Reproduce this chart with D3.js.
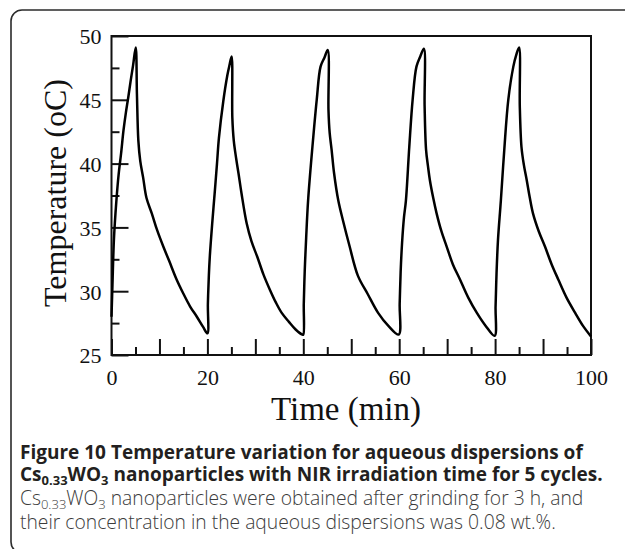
<!DOCTYPE html>
<html>
<head>
<meta charset="utf-8">
<script src="https://cdn.jsdelivr.net/npm/d3@7"></script>
<style>
    body { margin: 0; background: #fff; }
    #chart { width: 625px; height: 549px; }
    .tick text { font-family: "Liberation Serif", "Times New Roman", serif; font-size: 22px; fill: #111; }
    .axisTitle { font-family: "Liberation Serif", "Times New Roman", serif; fill: #111; }
    .captionBold { font-family: "Open Sans", sans-serif; font-weight: 700; font-size: 19px; fill: #231f20; }
    .captionText { font-family: "Open Sans", sans-serif; font-weight: 300; font-size: 19.3px; fill: #3c3c3c; }
</style>
</head>
<body>
<div id="chart"></div>
<script>
// Temperature readings (min, oC) per irradiation cycle
const cycle1Time = [0, 0.2, 0.5, 1.0, 1.5, 2.0, 2.5, 3.0, 3.5, 4.0, 4.5, 5.05, 5.3, 5.6, 6.0, 6.6, 7.3, 8.4, 9.5, 10.8, 12.0, 13.6, 15.0, 16.4, 17.8, 19.1, 20.0];
const cycle1Temp = [28.0, 30.5, 34.0, 37.0, 39.2, 40.8, 42.6, 44.0, 45.2, 46.5, 47.7, 49.1, 45.5, 41.8, 40.2, 38.9, 37.3, 36.1, 34.8, 33.5, 32.4, 30.9, 29.8, 28.8, 28.0, 27.2, 26.7];

const cycle2Time = [20.1, 20.3, 20.5, 21.0, 21.5, 22.0, 22.4, 23.3, 24.15, 24.6, 25.05, 25.2, 25.5, 26.0, 26.5, 27.1, 28.2, 29.2, 30.4, 31.7, 33.05, 34.3, 35.5, 37.0, 38.4, 39.8];
const cycle2Temp = [29.0, 31.2, 32.7, 35.3, 37.6, 40.0, 42.0, 44.85, 46.9, 47.7, 48.4, 43.6, 41.8, 40.4, 39.2, 37.7, 35.3, 33.9, 32.7, 31.3, 30.1, 29.1, 28.3, 27.6, 27.0, 26.6];

const cycle3Time = [40.0, 40.1, 40.3, 40.6, 41.0, 41.9, 42.8, 43.6, 44.4, 45.1, 45.25, 45.5, 45.9, 46.4, 47.3, 48.3, 49.6, 51.4, 53.4, 55.6, 57.7, 59.9];
const cycle3Temp = [26.6, 29.0, 31.6, 34.2, 37.1, 41.3, 45.0, 47.6, 48.3, 48.9, 44.2, 42.4, 41.1, 39.3, 37.1, 35.5, 33.6, 31.2, 29.8, 28.3, 27.3, 26.6];

const cycle4Time = [60.1, 60.3, 60.6, 61.0, 61.4, 62.1, 62.8, 63.6, 64.4, 65.15, 65.3, 65.6, 66.0, 66.4, 67.1, 67.8, 68.8, 69.9, 71.2, 72.7, 74.4, 76.2, 78.0, 79.9];
const cycle4Temp = [29.0, 31.5, 33.8, 35.8, 37.1, 41.3, 45.0, 47.6, 48.4, 49.0, 44.5, 41.1, 39.8, 38.7, 37.3, 36.1, 34.7, 33.5, 32.1, 30.9, 29.5, 28.3, 27.3, 26.5];

const cycle5Time = [80.1, 80.3, 80.6, 81.2, 81.9, 82.75, 83.8, 84.4, 85.0, 85.15, 85.5, 86.0, 86.6, 87.2, 87.9, 89.1, 90.4, 91.8, 93.2, 94.9, 96.7, 98.3, 100.0];
const cycle5Temp = [28.8, 31.4, 34.0, 37.1, 41.0, 45.0, 47.6, 48.5, 49.1, 44.5, 41.3, 39.9, 38.7, 37.4, 36.1, 34.7, 33.5, 32.1, 30.9, 29.5, 28.3, 27.3, 26.45];

// Axis ticks
const xMajorTicks = [0, 10, 20, 30, 40, 50, 60, 70, 80, 90, 100];
const xMinorTicks = [5, 15, 25, 35, 45, 55, 65, 75, 85, 95];
const yMajorTicks = [25, 30, 35, 40, 45, 50];
const yMinorTicks = [27.5, 32.5, 37.5, 42.5, 47.5];

class TempChart {

    constructor(parentElement) {
        this.parentElement = parentElement;
        this.initVis();
    }

    initVis() {
        let vis = this;

        vis.width = 625;
        vis.height = 549;

        // plot box inside the figure
        vis.margin = {top: 36, right: 34, bottom: 194, left: 111.5};
        vis.plotW = vis.width - vis.margin.left - vis.margin.right;
        vis.plotH = vis.height - vis.margin.top - vis.margin.bottom;

        vis.svg = d3.select("#" + vis.parentElement).append("svg")
            .attr("width", vis.width)
            .attr("height", vis.height);

        // rounded figure frame (runs past the right and bottom edge)
        vis.svg.append("rect")
            .attr("x", 11)
            .attr("y", 10)
            .attr("width", 660)
            .attr("height", 543)
            .attr("rx", 11)
            .attr("fill", "none")
            .attr("stroke", "#2b2b2b")
            .attr("stroke-width", 1.6);

        vis.g = vis.svg.append("g")
            .attr("transform", `translate(${vis.margin.left}, ${vis.margin.top})`);

        // scales
        vis.x = d3.scaleLinear().domain([0, 100]).range([0, vis.plotW]);
        vis.y = d3.scaleLinear().domain([25, 50]).range([vis.plotH, 0]);

        // merge cycles into a single trace
        vis.displayData = [];
        [[cycle1Time, cycle1Temp], [cycle2Time, cycle2Temp], [cycle3Time, cycle3Temp],
            [cycle4Time, cycle4Temp], [cycle5Time, cycle5Temp]].forEach(c => {
            c[0].forEach((t, i) => vis.displayData.push({time: t, temp: c[1][i]}));
        });

        // x axis, ticks pointing inward
        vis.g.append("g")
            .attr("class", "x-axis")
            .attr("transform", `translate(0, ${vis.plotH})`)
            .call(d3.axisBottom(vis.x).tickValues(xMajorTicks).tickSizeInner(-16).tickSizeOuter(0)
                .tickPadding(15)
                .tickFormat(d => d % 20 === 0 ? d : ""));

        vis.g.append("g")
            .attr("class", "x-axis-minor")
            .attr("transform", `translate(0, ${vis.plotH})`)
            .call(d3.axisBottom(vis.x).tickValues(xMinorTicks).tickSizeInner(-8).tickSizeOuter(0)
                .tickFormat(""));

        // y axis
        vis.g.append("g")
            .attr("class", "y-axis")
            .call(d3.axisLeft(vis.y).tickValues(yMajorTicks).tickSizeInner(-17).tickSizeOuter(0)
                .tickPadding(10));

        vis.g.append("g")
            .attr("class", "y-axis-minor")
            .call(d3.axisLeft(vis.y).tickValues(yMinorTicks).tickSizeInner(-8).tickSizeOuter(0)
                .tickFormat(""));

        vis.g.selectAll(".domain").remove();
        vis.g.selectAll(".tick line").attr("stroke", "#111").attr("stroke-width", 2);
        vis.g.selectAll(".x-axis .tick text").attr("dy", null).attr("y", 30).attr("dominant-baseline", "auto");
        vis.g.selectAll(".y-axis .tick text").attr("dy", "0.36em");

        // plot box
        vis.g.append("rect")
            .attr("width", vis.plotW)
            .attr("height", vis.plotH)
            .attr("fill", "none")
            .attr("stroke", "#111")
            .attr("stroke-width", 2);

        // temperature trace
        vis.line = d3.line()
            .x(d => vis.x(d.time))
            .y(d => vis.y(d.temp))
            .curve(d3.curveCatmullRom.alpha(0.5));

        vis.g.append("path")
            .datum(vis.displayData)
            .attr("fill", "none")
            .attr("stroke", "#000")
            .attr("stroke-width", 2.5)
            .attr("stroke-linejoin", "round")
            .attr("d", vis.line);

        // axis titles
        vis.svg.append("text")
            .attr("class", "axisTitle")
            .attr("x", 346)
            .attr("y", 420)
            .attr("text-anchor", "middle")
            .style("font-size", "33px")
            .text("Time (min)");

        vis.svg.append("text")
            .attr("class", "axisTitle")
            .attr("transform", "translate(66, 193) rotate(-90)")
            .attr("text-anchor", "middle")
            .style("font-size", "32px")
            .text("Temperature (oC)");

        // caption
        let cap = vis.svg.append("g").attr("class", "caption");

        cap.append("text")
            .attr("class", "captionBold")
            .attr("x", 20).attr("y", 459)
            .text("Figure 10 Temperature variation for aqueous dispersions of");

        let l2 = cap.append("text")
            .attr("class", "captionBold")
            .attr("x", 20).attr("y", 481);
        l2.append("tspan").text("Cs");
        l2.append("tspan").attr("dy", 4).style("font-size", "13px").text("0.33");
        l2.append("tspan").attr("dy", -4).text("WO");
        l2.append("tspan").attr("dy", 4).style("font-size", "13px").text("3");
        l2.append("tspan").attr("dy", -4).text(" nanoparticles with NIR irradiation time for 5 cycles.");

        let l3 = cap.append("text")
            .attr("class", "captionText")
            .attr("x", 20).attr("y", 505);
        l3.append("tspan").text("Cs");
        l3.append("tspan").attr("dy", 4).style("font-size", "13px").text("0.33");
        l3.append("tspan").attr("dy", -4).text("WO");
        l3.append("tspan").attr("dy", 4).style("font-size", "13px").text("3");
        l3.append("tspan").attr("dy", -4).text(" nanoparticles were obtained after grinding for 3 h, and");

        cap.append("text")
            .attr("class", "captionText")
            .attr("x", 20).attr("y", 529)
            .text("their concentration in the aqueous dispersions was 0.08 wt.%.");
    }
}

new TempChart("chart");
</script>
</body>
</html>
